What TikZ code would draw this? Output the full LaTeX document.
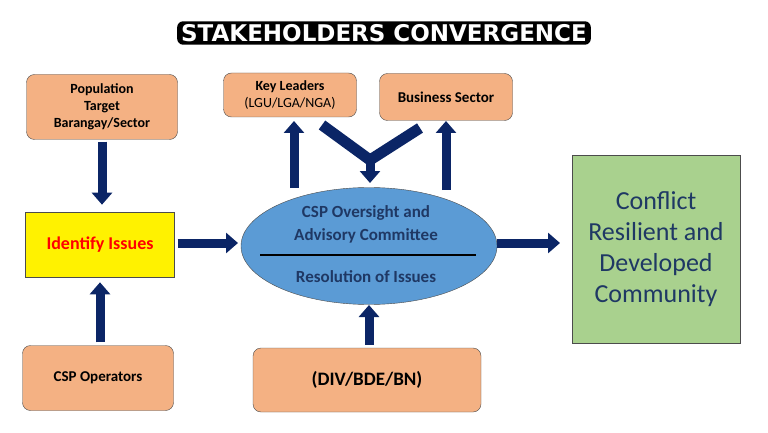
\documentclass[tikz,border=0pt]{standalone}
\usepackage{fontspec}
\setmainfont{Carlito}
\usetikzlibrary{arrows.meta,shapes.geometric}
\definecolor{peach}{HTML}{F4B183}
\definecolor{navy}{HTML}{0B2566}
\definecolor{ellblue}{HTML}{5B9BD5}
\definecolor{grn}{HTML}{A9D18E}
\definecolor{txtblue}{HTML}{1F3864}
\tikzset{
  pbox/.style={draw=black!70,fill=peach,rounded corners=8pt,align=center,font=\bfseries,text=black},
  barrow/.style={draw=navy,line width=9pt,-{Triangle[width=20pt,length=12pt]}},
  bline/.style={draw=navy,line width=11pt},
}
\begin{document}
\begin{tikzpicture}[x=1pt,y=-1pt]
\useasboundingbox (0,0) rectangle (768,433);
% title
\node[fill=black,rounded corners=6pt,inner xsep=4pt,inner ysep=3pt,font=\fontsize{23}{23}\selectfont\bfseries\fontspec{DejaVu Sans},text=white] (title) at (384,33) {STAKEHOLDERS CONVERGENCE};
% boxes
\node[pbox,minimum width=151pt,minimum height=65pt,font=\fontsize{14}{17}\selectfont\bfseries] (pop) at (102,107) {Population\\Target\\Barangay/Sector};
\node[pbox,minimum width=133pt,minimum height=44pt,font=\fontsize{14}{17}\selectfont] (key) at (290,95) {\textbf{Key Leaders}\\(LGU/LGA/NGA)};
\node[pbox,minimum width=133pt,minimum height=47pt,font=\fontsize{15}{17}\selectfont\bfseries] (bus) at (446,97) {Business Sector};
\node[draw=black!70,fill=yellow,minimum width=149pt,minimum height=65pt,text=red,font=\fontsize{18}{20}\selectfont\bfseries] (iss) at (100,245) {Identify Issues};
\node[pbox,minimum width=151pt,minimum height=65pt,font=\fontsize{15}{17}\selectfont\bfseries] (ops) at (98,378) {CSP Operators};
\node[pbox,minimum width=228pt,minimum height=64pt,font=\fontsize{19}{21}\selectfont\bfseries] (div) at (367,380) {(DIV/BDE/BN)};
\node[ellipse,draw=black!70,fill=ellblue,minimum width=256pt,minimum height=117pt] (ell) at (369,246) {};
\node[font=\fontsize{17}{23}\selectfont\bfseries,text=txtblue,align=center] (oa) at (366,224) {CSP Oversight and\\Advisory Committee};
\draw[black,line width=1.3pt] (260,255) -- (476,255);
\node[font=\fontsize{17}{20}\selectfont\bfseries,text=txtblue] (res) at (366,277) {Resolution of Issues};
\node[draw=black!70,fill=grn,minimum width=168pt,minimum height=188pt,align=center,text=txtblue,font=\fontsize{26}{31}\selectfont] (res2) at (656,249) {Conflict\\Resilient and\\Developed\\Community};
% arrows
\draw[barrow] (pop.south) ++(0,2) -- ++(0,63);
\draw[barrow] (ops.north) ++(2,-3) -- ++(0,-60);
\draw[barrow] (iss.east) ++(3,-2) -- (238,243);
\draw[barrow] (497,243) -- (560,243);
\draw[barrow] (div.north) ++(2,-3) -- (369,305);
\draw[barrow] (294,188) -- (294,121);
\draw[barrow] (446,190) -- (446,121);
\coordinate (yj) at (370,160);
\draw[bline] (322,125) -- (yj) -- (420,128);
\draw[barrow] (yj) ++(0,-3) -- (370,183);
\end{tikzpicture}
\end{document}
